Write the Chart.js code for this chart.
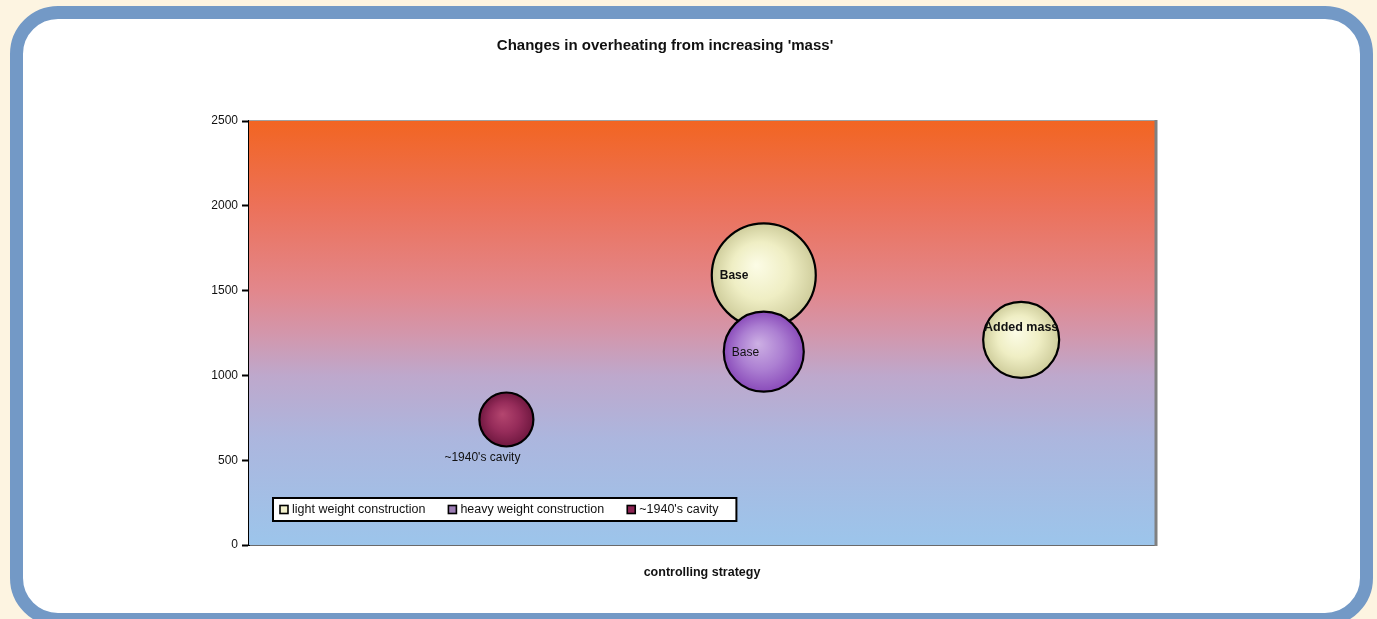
<!DOCTYPE html>
<html>
<head>
<meta charset="utf-8">
<script src="https://cdn.jsdelivr.net/npm/chart.js@4/dist/chart.umd.min.js"></script>
<style>
  html,body{margin:0;padding:0;background:#fdf4e1;overflow:hidden;}
  body{width:1377px;height:619px;position:relative;}
  .frame{position:absolute;left:10px;top:6px;width:1337px;height:594px;border:13px solid #7399c6;border-radius:48px;background:#fff;}
  #wrap{position:absolute;left:0;top:0;width:1377px;height:619px;}
</style>
</head>
<body>
<div class="frame"></div>
<div id="wrap"><canvas id="chart" width="1377" height="619"></canvas></div>
<script>
// series (x = strategy position, y = overheating hours, r = bubble size)
const seriesNames = ['light weight construction', 'heavy weight construction', "~1940's cavity"];
const lightPoints = [{x:2, y:1590, r:52}, {x:3, y:1210, r:38}];
const heavyPoints = [{x:2, y:1140, r:40}];
const cavityPoints = [{x:1, y:740, r:27}];
const lightLabels = ['Base', 'Added mass'];
const heavyLabels = ['Base'];
const cavityLabels = ["~1940's cavity"];
const yTicks = [0, 500, 1000, 1500, 2000, 2500];

const FONT = 'Arial, "Liberation Sans", sans-serif';

// radial fill per bubble, built from the scales so it follows the data
function bubbleFill(stops){
  return ctx => {
    const chart = ctx.chart, raw = ctx.raw;
    if(!raw || !chart.scales.x || !chart.scales.y) return stops[1];
    const x = chart.scales.x.getPixelForValue(raw.x);
    const y = chart.scales.y.getPixelForValue(raw.y);
    if(!isFinite(x) || !isFinite(y)) return stops[1];
    const g = chart.ctx.createRadialGradient(x - raw.r*0.15, y - raw.r*0.2, 0, x, y, raw.r);
    g.addColorStop(0, stops[0]);
    g.addColorStop(0.55, stops[1]);
    g.addColorStop(1, stops[2]);
    return g;
  };
}

const plotBg = {
  id: 'plotBg',
  beforeDatasetsDraw(chart){
    const {ctx, chartArea:a} = chart;
    const g = ctx.createLinearGradient(0, a.top, 0, a.bottom);
    g.addColorStop(0, '#f26522');
    g.addColorStop(0.2, '#ec7159');
    g.addColorStop(0.4, '#e2878c');
    g.addColorStop(0.5, '#d396ab');
    g.addColorStop(0.6, '#bea8cc');
    g.addColorStop(0.75, '#acb6de');
    g.addColorStop(1, '#9cc5eb');
    ctx.save();
    ctx.fillStyle = g;
    ctx.fillRect(a.left, a.top, a.right - a.left, a.bottom - a.top);
    // top and right frame lines
    ctx.strokeStyle = '#a0a0a0';
    ctx.lineWidth = 1;
    ctx.beginPath(); ctx.moveTo(a.left, a.top - 0.5); ctx.lineTo(a.right, a.top - 0.5); ctx.stroke();
    ctx.strokeStyle = '#808080';
    ctx.lineWidth = 3;
    ctx.beginPath(); ctx.moveTo(a.right + 1, a.top - 1); ctx.lineTo(a.right + 1, a.bottom + 1); ctx.stroke();
    ctx.restore();
  }
};

// labels on the bubbles + the boxed legend inside the plot
const annotate = {
  id: 'annotate',
  afterDatasetsDraw(chart){
    const {ctx, chartArea:a} = chart;
    const labelSets = [lightLabels, heavyLabels, cavityLabels];
    ctx.save();
    ctx.fillStyle = '#111';
    chart.data.datasets.forEach((ds, di) => {
      const meta = chart.getDatasetMeta(di);
      meta.data.forEach((el, i) => {
        const txt = labelSets[di][i];
        const r = ds.data[i].r;
        if(di === 0 && i === 0){
          ctx.font = 'bold 12px ' + FONT; ctx.textAlign = 'left'; ctx.textBaseline = 'middle';
          ctx.fillText(txt, el.x - r + 8, el.y);
        } else if(di === 0){
          ctx.font = 'bold 12.5px ' + FONT; ctx.textAlign = 'center'; ctx.textBaseline = 'middle';
          ctx.fillText(txt, el.x, el.y - 12);
        } else if(di === 1){
          ctx.font = '12px ' + FONT; ctx.textAlign = 'left'; ctx.textBaseline = 'middle';
          ctx.fillText(txt, el.x - r + 8, el.y + 1);
        } else {
          ctx.font = '12px ' + FONT; ctx.textAlign = 'center'; ctx.textBaseline = 'middle';
          ctx.fillText(txt, el.x - 24, el.y + r + 11);
        }
      });
    });

    // legend
    const swatch = ['#f3f1cc', '#9c7db4', '#8c2352'];
    ctx.font = '12.5px ' + FONT;
    const bx = a.left + 24, bh = 23, by = a.bottom - 24 - bh;
    let w = 7;
    const widths = seriesNames.map(n => ctx.measureText(n).width);
    widths.forEach((tw, i) => { w += 12 + tw + (i < widths.length - 1 ? 23 : 18); });
    ctx.fillStyle = '#fff';
    ctx.fillRect(bx, by, w, bh);
    ctx.strokeStyle = '#000'; ctx.lineWidth = 2;
    ctx.strokeRect(bx, by, w, bh);
    let x = bx + 7;
    const cy = by + bh/2;
    seriesNames.forEach((n, i) => {
      ctx.fillStyle = swatch[i];
      ctx.fillRect(x, cy - 4, 8, 8);
      ctx.lineWidth = 1.6; ctx.strokeStyle = '#000';
      ctx.strokeRect(x, cy - 4, 8, 8);
      ctx.fillStyle = '#111'; ctx.textAlign = 'left'; ctx.textBaseline = 'middle';
      ctx.fillText(n, x + 12, cy + 0.5);
      x += 12 + widths[i] + 23;
    });
    ctx.restore();
  }
};

new Chart(document.getElementById('chart'), {
  type: 'bubble',
  data: {
    datasets: [
      { label: seriesNames[0], data: lightPoints, order: 2,
        backgroundColor: bubbleFill(['#fcfce6', '#efeec4', '#cfcd9c']), borderColor: '#000', borderWidth: 2.2 },
      { label: seriesNames[1], data: heavyPoints, order: 1,
        backgroundColor: bubbleFill(['#cdb0e4', '#ac7fd2', '#8a4cba']), borderColor: '#000', borderWidth: 2.2 },
      { label: seriesNames[2], data: cavityPoints, order: 3,
        backgroundColor: bubbleFill(['#b4466f', '#962c5a', '#701840']), borderColor: '#000', borderWidth: 2.2 }
    ]
  },
  options: {
    responsive: false,
    animation: false,
    layout: { padding: { left: 175, right: 222, top: 0, bottom: 39 } },
    plugins: {
      legend: { display: false },
      tooltip: { enabled: false },
      title: {
        display: true,
        text: "Changes in overheating from increasing 'mass'",
        color: '#111',
        font: { family: FONT, size: 15, weight: 'bold' },
        padding: { top: 37, bottom: 66 }
      }
    },
    scales: {
      x: {
        min: 0, max: 3.52,
        ticks: { display: false },
        grid: { display: false, drawTicks: false },
        border: { display: true, color: '#6a6a6a', width: 2 },
        title: { display: true, text: 'controlling strategy', color: '#111',
                 font: { family: FONT, size: 12.5, weight: 'bold' }, padding: { top: 0, bottom: 0 } },
        afterFit: s => { s.height = 35; }
      },
      y: {
        min: 0, max: 2500,
        afterBuildTicks: s => { s.ticks = yTicks.map(v => ({ value: v })); },
        ticks: { color: '#111', font: { family: FONT, size: 12 }, padding: 4, callback: v => String(v) },
        grid: { drawOnChartArea: false, color: '#000', tickLength: 7, tickWidth: 2 },
        border: { display: true, color: '#000', width: 2 },
        afterFit: s => { s.width = 74; }
      }
    }
  },
  plugins: [plotBg, annotate]
});
</script>
</body>
</html>
